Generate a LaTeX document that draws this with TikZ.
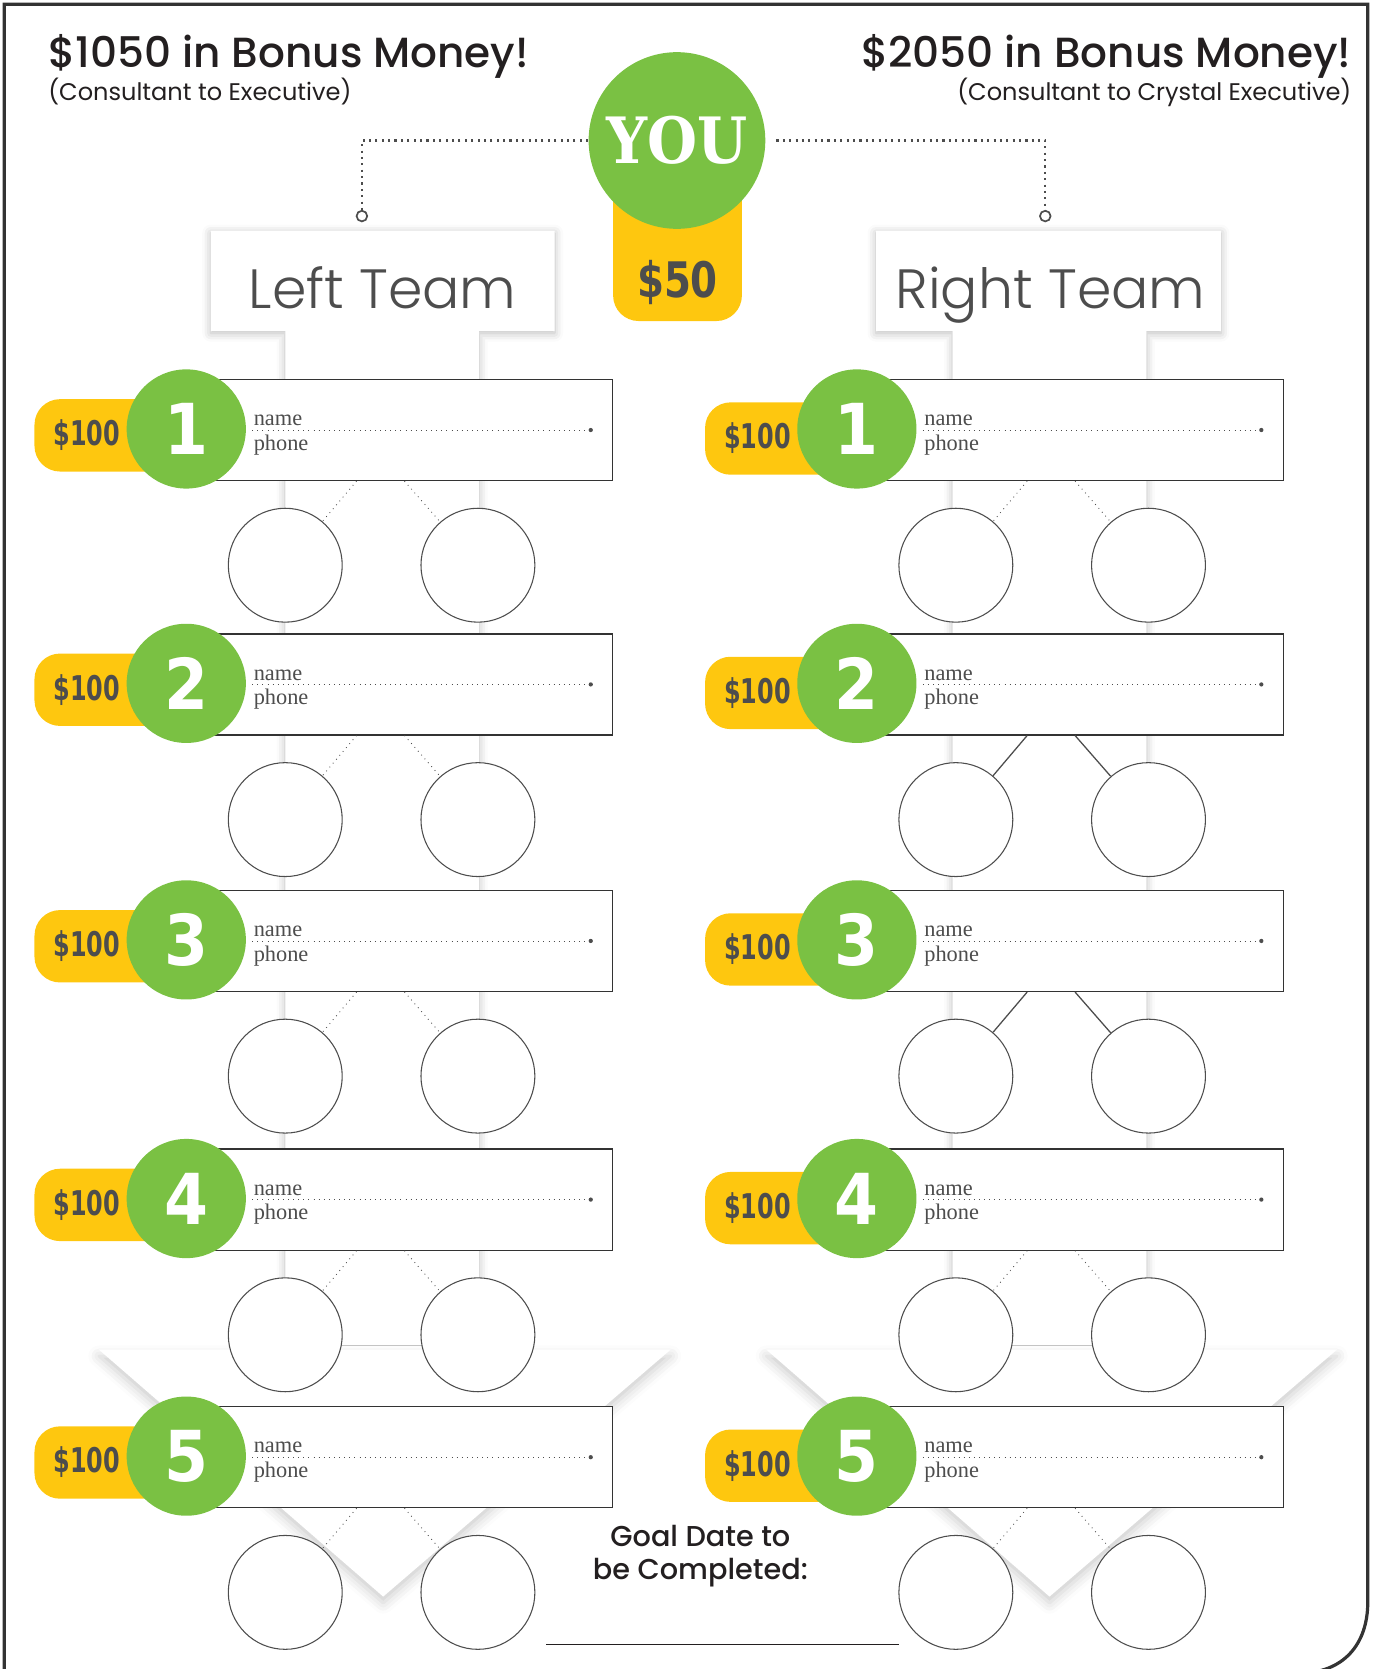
\documentclass[tikz,border=0pt]{standalone}
\usepackage{graphicx}
\usepackage{fontspec}
\usepackage{tikz}
\usetikzlibrary{shadows.blur}

\newfontfamily\headfont{Poppins Medium}
\newfontfamily\subfont{Poppins}
\newfontfamily\lightfont{Poppins Light}
\newfontfamily\numfont{DejaVu Sans Condensed Bold}
\newfontfamily\youfont{DejaVu Serif Condensed Bold}
\newfontfamily\fieldfont{Liberation Serif}

\definecolor{youngreen}{HTML}{7AC143}
\definecolor{bonusyellow}{HTML}{FEC70F}
\definecolor{inkgray}{HTML}{4D4D4D}
\definecolor{headink}{HTML}{231F20}
\definecolor{framegray}{HTML}{333333}

\newcommand{\narrow}[1]{\scalebox{0.78}[1]{#1}}

\newcommand{\teamrow}[6]{%
  \node[pillbox, anchor=west] (#1pill) at ({#2-143},{#3+#6}) {\narrow{\$100}};
  \node[namebox, anchor=west] (#1box) at ({#2+10},{#3+1}) {};
  \node[fieldtext, anchor=base west] (#1name) at ({#2+63},{#3-3}) {name};
  \node[fieldtext, anchor=base west] (#1phone) at ({#2+63},{#3+20}) {phone};
  \draw[writeline] ({#2+62},{#3+1}) -- ({#2+380},{#3+1});
  \fill[inkgray] ({#2+380},{#3+1}) circle (1pt);
  \node[numcircle] (#1num) at (#2,#3) {#4};
  \node[childcircle] (#1a) at ({#2+93},{#3+128}) {};
  \node[childcircle] (#1b) at ({#2+274},{#3+128}) {};
  \coordinate (#1ta) at ({#2+160},{#3+49});
  \coordinate (#1tb) at ({#2+205},{#3+49});
  \draw[#5] (#1ta) -- (#1a);
  \draw[#5] (#1tb) -- (#1b);
}

\begin{document}
\begin{tikzpicture}[x=0.5pt, y=-0.5pt,
    headtext/.style={font=\headfont\fontsize{19.8}{24}\selectfont, text=headink, inner sep=0},
    subtext/.style={font=\subfont\fontsize{11.3}{14}\selectfont, text=headink, inner sep=0},
    teamtext/.style={font=\lightfont\fontsize{26}{30}\selectfont, text=inkgray, inner sep=0, anchor=base},
    teamshape/.style={fill=white, blur shadow={shadow xshift=0pt, shadow yshift=-1pt, shadow blur radius=4pt, shadow opacity=28}},
    chevron/.style={fill=white, blur shadow={shadow xshift=0pt, shadow yshift=-3pt, shadow blur radius=5pt, shadow opacity=20}},
    yourcircle/.style={circle, fill=youngreen, minimum size=83pt, inner sep=0, text=white, font=\youfont\fontsize{30}{30}\selectfont},
    fiftybox/.style={fill=bonusyellow, rounded corners=12pt, minimum width=60.5pt, text height=60pt, text depth=0pt, inner ysep=11pt, inner xsep=0pt, text=inkgray, font=\numfont\fontsize{23}{23}\selectfont, anchor=south},
    endring/.style={circle, draw=inkgray, line width=0.8pt, fill=white, minimum size=5pt, inner sep=0},
    youline/.style={dotted, line width=1pt, inkgray},
    pillbox/.style={fill=bonusyellow, rounded corners=12pt, minimum height=34pt, text width=52pt, inner xsep=9pt, align=left, text=inkgray, font=\numfont\fontsize{16}{16}\selectfont},
    numcircle/.style={circle, fill=youngreen, minimum size=56pt, inner sep=0, text=white, font=\numfont\fontsize{33}{33}\selectfont},
    namebox/.style={draw=framegray, line width=0.6pt, fill=white, minimum width=195pt, minimum height=47.5pt, inner sep=0},
    fieldtext/.style={font=\fieldfont\fontsize{10.5}{12}\selectfont, text=inkgray, inner sep=0},
    writeline/.style={dotted, line width=0.4pt, inkgray},
    childcircle/.style={circle, draw=inkgray, line width=0.5pt, fill=white, minimum size=53.5pt, inner sep=0},
    linkdot/.style={dotted, line width=0.4pt, inkgray},
    linksolid/.style={line width=0.6pt, inkgray},
    goaltext/.style={font=\headfont\fontsize{13.5}{15.5}\selectfont, text=headink, align=center, inner sep=0},
    goalline/.style={line width=0.8pt, headink},
    frameline/.style={line width=1.5pt, framegray}]
  \useasboundingbox (0,0) rectangle (1290,1568);

  \fill[teamshape] (198,217) -- (521,217) -- (521,311) -- (450,311) -- (450,1380) -- (268,1380) -- (268,311) -- (198,311) -- cycle;
  \fill[teamshape] (823,217) -- (1147,217) -- (1147,311) -- (1077,311) -- (1077,1380) -- (895,1380) -- (895,311) -- (823,311) -- cycle;
  \fill[chevron] (93,1268) -- (630,1268) -- (360,1500) -- cycle;
  \fill[chevron] (720,1268) -- (1256,1268) -- (986,1500) -- cycle;

  \node[teamtext] (leftteam) at (359.5,290) {Left Team};
  \node[teamtext] (rightteam) at (987,290) {Right Team};

  \node[fiftybox] (fifty) at (636.5,302) {\scalebox{0.88}[1]{\$50}};
  \node[yourcircle] (you) at (636,132) {YOU};
  \node[endring] (leftend) at (340,203) {};
  \node[endring] (rightend) at (982,203) {};
  \draw[youline] (you.west) -| (leftend);
  \draw[youline, shorten <=5pt] (you.east) -| (rightend);

  \node[headtext, anchor=base west] (lefthead) at (45,63) {\$1050 in Bonus Money!};
  \node[subtext, anchor=base west] (leftsub) at (45,94) {(Consultant to Executive)};
  \node[headtext, anchor=base east] (righthead) at (1270,63) {\$2050 in Bonus Money!};
  \node[subtext, anchor=base east] (rightsub) at (1270,94) {(Consultant to Crystal Executive)};

  \teamrow{L1}{175}{403}{1}{linkdot}{6}
  \teamrow{L2}{175}{642}{2}{linkdot}{6}
  \teamrow{L3}{175}{883}{3}{linkdot}{6}
  \teamrow{L4}{175}{1126}{4}{linkdot}{6}
  \teamrow{L5}{175}{1368}{5}{linkdot}{6}
  \teamrow{R1}{805}{403}{1}{linkdot}{9}
  \teamrow{R2}{805}{642}{2}{linksolid}{9}
  \teamrow{R3}{805}{883}{3}{linksolid}{9}
  \teamrow{R4}{805}{1126}{4}{linkdot}{9}
  \teamrow{R5}{805}{1368}{5}{linkdot}{9}

  \node[goaltext] (goal) at (658,1462) {Goal Date to\\be Completed:};
  \draw[goalline] (513,1545) -- (845,1545);

  \draw[frameline] (4,1580) -- (4,4) -- (1285,4) -- (1285,1505) .. controls (1285,1545) and (1262,1572) .. (1220,1572);
\end{tikzpicture}
\end{document}
